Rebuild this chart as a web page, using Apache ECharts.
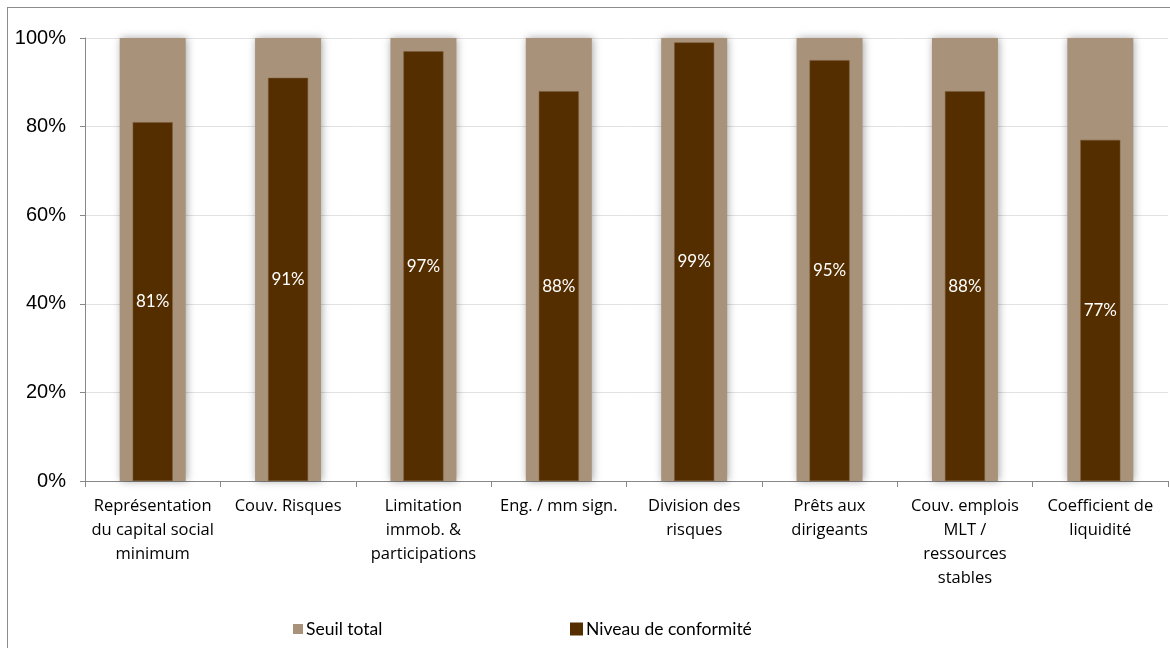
<!DOCTYPE html>
<html>
<head>
<meta charset="utf-8">
<script src="https://cdn.jsdelivr.net/npm/echarts@6/dist/echarts.min.js"></script>
<style>
html,body{margin:0;padding:0;background:#fff;}
#frame{position:absolute;left:7px;top:7px;width:1200px;height:700px;border:1px solid #8c8c8c;box-sizing:border-box;}
#chart{position:absolute;left:0;top:0;width:1170px;height:648px;}
</style>
</head>
<body>
<div id="frame"></div>
<div id="chart"></div>
<script>
const categories = [
  "Représentation\ndu capital social\nminimum",
  "Couv. Risques",
  "Limitation\nimmob. &\nparticipations",
  "Eng. / mm sign.",
  "Division des\nrisques",
  "Prêts aux\ndirigeants",
  "Couv. emplois\nMLT /\nressources\nstables",
  "Coefficient de\nliquidité"
];
const seuilTotal = [100, 100, 100, 100, 100, 100, 100, 100];
const niveauConformite = [81, 91, 97, 88, 99, 95, 88, 77];
const yTicks = [0, 20, 40, 60, 80, 100];

const chart = echarts.init(document.getElementById('chart'), null, {renderer: 'canvas'});
const labelFont = 'Lato, "Open Sans", sans-serif';
chart.setOption({
  animation: false,
  grid: {left: 85, right: 2, top: 38, bottom: 167, containLabel: false},
  legend: [
    {data: ['Seuil total'], left: 293, top: 620, padding: 0, itemWidth: 10, itemHeight: 10, itemGap: 3,
     textStyle: {fontFamily: labelFont, fontSize: 17.5, color: '#000', padding: [0,0,0,-2]}, icon: 'rect'},
    {data: ['Niveau de conformité'], left: 570, top: 620, padding: 0, itemWidth: 13, itemHeight: 13, itemGap: 3,
     itemStyle: {borderWidth: 0},
     textStyle: {fontFamily: labelFont, fontSize: 17.5, color: '#000', padding: [0,0,0,-2]}, icon: 'rect'}
  ],
  xAxis: [
    {type: 'category', data: categories,
     axisLine: {lineStyle: {color: '#888', width: 1}},
     axisTick: {show: true, length: 6, lineStyle: {color: '#888'}},
     axisLabel: {interval: 0, color: '#000', fontFamily: '"Open Sans", Lato, sans-serif', fontSize: 16.5, lineHeight: 24, margin: 13}},
    {type: 'category', data: categories, show: false}
  ],
  yAxis: {
    type: 'value', min: yTicks[0], max: yTicks[yTicks.length-1], interval: 20,
    axisLine: {show: true, lineStyle: {color: '#888'}},
    axisTick: {show: true, length: 5, lineStyle: {color: '#888'}},
    splitLine: {lineStyle: {color: '#e2e2e2'}},
    axisLabel: {formatter: '{value}%', color: '#000', fontFamily: 'Liberation Sans, Arial, sans-serif', fontSize: 20, margin: 19}
  },
  series: [
    {name: 'Seuil total', type: 'bar', xAxisIndex: 0, data: seuilTotal, barWidth: 66,
     itemStyle: {color: '#A8927A', shadowBlur: 8, shadowColor: 'rgba(0,0,0,0.35)', shadowOffsetX: 1}, z: 2},
    {name: 'Niveau de conformité', type: 'bar', xAxisIndex: 1, data: niveauConformite, barWidth: 40,
     itemStyle: {color: '#552E00', borderColor: '#7a5a3a', borderWidth: 0.5},
     label: {show: true, position: 'inside', formatter: '{c}%', color: '#fff', fontFamily: labelFont, fontSize: 17},
     z: 3}
  ]
});
</script>
</body>
</html>
